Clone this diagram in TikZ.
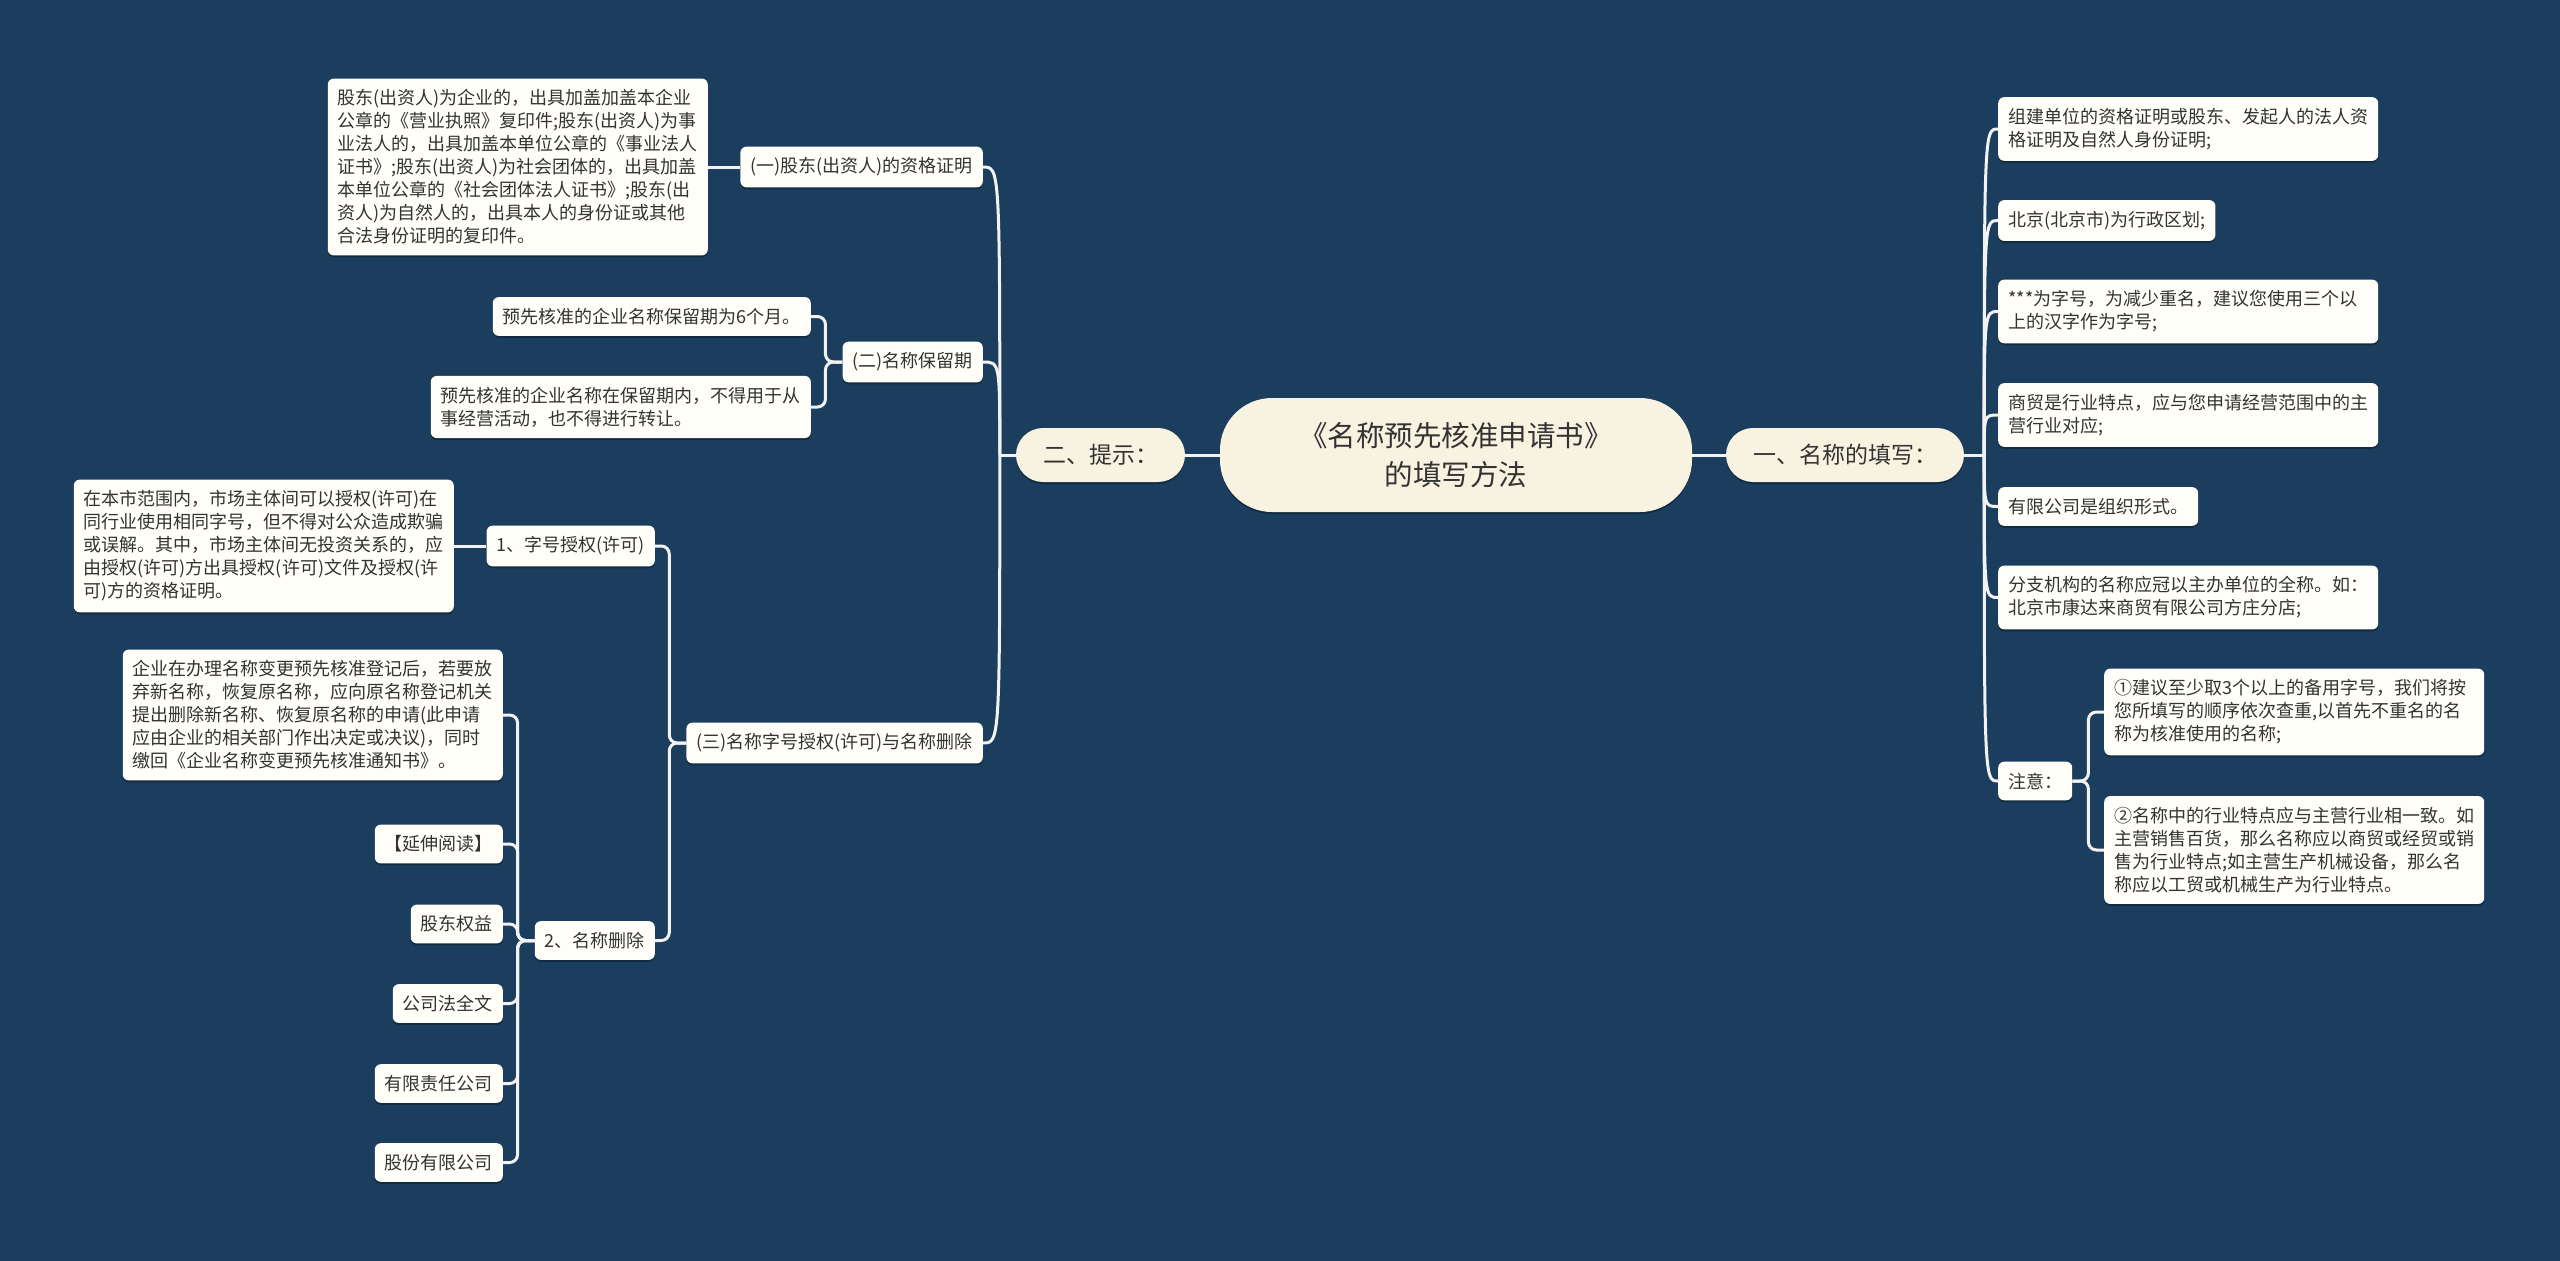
\documentclass[tikz,border=0pt]{standalone}
\usepackage{fontspec}
\setmainfont{Noto Sans CJK SC}
\usetikzlibrary{calc,shadows}
\definecolor{bg}{HTML}{1B3E5E}
\definecolor{cream}{HTML}{F8F3E0}
\definecolor{boxw}{HTML}{FFFEF8}
\definecolor{txt}{HTML}{333333}
\definecolor{wire}{HTML}{F2F2F2}
\begin{document}
\begin{tikzpicture}[x=1pt,y=-1pt,
  shade box/.style={drop shadow={opacity=0.3, shadow xshift=0pt, shadow yshift=-2pt, fill=black}},
  leaf/.style={fill=boxw, shade box, rounded corners=6pt, inner xsep=10pt, inner ysep=11pt, font=\fontsize{18}{23}\selectfont, text=txt, align=left},
  wide/.style={leaf, text width=360pt},
  mainbox/.style={fill=cream, shade box, rounded corners=27pt, minimum height=54pt, inner xsep=27pt, font=\fontsize{23}{28}\selectfont, text=txt},
  rootbox/.style={fill=cream, shade box, rounded corners=52pt, minimum width=472pt, minimum height=114pt, font=\fontsize{28.5}{39}\selectfont, text=txt, align=center},
  conn/.style={draw=wire, line width=3pt},
  elbow/.style={conn, rounded corners=8pt},
]
\useasboundingbox (0,0) rectangle (2560,1261);
\fill[bg] (0,0) rectangle (2560,1261);

% connectors are drawn first (behind the boxes) using coordinates of the boxes placed below
% root and main branches
\node[rootbox] (c) at (1456,455) {《名称预先核准申请书》\\的填写方法};
\node[mainbox] (m1) at (1845,455) {一、名称的填写：};
\node[mainbox] (m2) at (1100.5,455) {二、提示：};

% right side
\node[wide, anchor=west] (r1) at (1998,129) {组建单位的资格证明或股东、发起人的法人资\\格证明及自然人身份证明;};
\node[leaf, anchor=west] (r2) at (1998,220.5) {北京(北京市)为行政区划;};
\node[wide, anchor=west] (r3) at (1998,311.5) {***为字号，为减少重名，建议您使用三个以\\上的汉字作为字号;};
\node[wide, anchor=west] (r4) at (1998,415) {商贸是行业特点，应与您申请经营范围中的主\\营行业对应;};
\node[leaf, anchor=west] (r5) at (1998,506.5) {有限公司是组织形式。};
\node[wide, anchor=west] (r6) at (1998,597.5) {分支机构的名称应冠以主办单位的全称。如：\\北京市康达来商贸有限公司方庄分店;};
\node[leaf, anchor=west] (r7) at (1998,781) {注意：};
\node[wide, anchor=west] (n1) at (2104,712) {①建议至少取3个以上的备用字号，我们将按\\您所填写的顺序依次查重,以首先不重名的名\\称为核准使用的名称;};
\node[wide, anchor=west] (n2) at (2104,850) {②名称中的行业特点应与主营行业相一致。如\\主营销售百货，那么名称应以商贸或经贸或销\\售为行业特点;如主营生产机械设备，那么名\\称应以工贸或机械生产为行业特点。};

% left side
\node[leaf, anchor=east] (a1) at (983,167) {(一)股东(出资人)的资格证明};
\node[wide, anchor=east] (a1t) at (708,167) {股东(出资人)为企业的，出具加盖加盖本企业\\公章的《营业执照》复印件;股东(出资人)为事\\业法人的，出具加盖本单位公章的《事业法人\\证书》;股东(出资人)为社会团体的，出具加盖\\本单位公章的《社会团体法人证书》;股东(出\\资人)为自然人的，出具本人的身份证或其他\\合法身份证明的复印件。};
\node[leaf, anchor=east] (a2) at (983,362) {(二)名称保留期};
\node[leaf, anchor=east] (a2a) at (811,316.5) {预先核准的企业名称保留期为6个月。};
\node[wide, anchor=east] (a2b) at (811,407) {预先核准的企业名称在保留期内，不得用于从\\事经营活动，也不得进行转让。};
\node[leaf, anchor=east] (a3) at (983,743) {(三)名称字号授权(许可)与名称删除};
\node[leaf, anchor=east] (b1) at (655,546) {1、字号授权(许可)};
\node[wide, anchor=east] (b1t) at (454,546) {在本市范围内，市场主体间可以授权(许可)在\\同行业使用相同字号，但不得对公众造成欺骗\\或误解。其中，市场主体间无投资关系的，应\\由授权(许可)方出具授权(许可)文件及授权(许\\可)方的资格证明。};
\node[leaf, anchor=east] (b2) at (655,940.5) {2、名称删除};
\node[wide, anchor=east] (b2t) at (503,715) {企业在办理名称变更预先核准登记后，若要放\\弃新名称，恢复原名称，应向原名称登记机关\\提出删除新名称、恢复原名称的申请(此申请\\应由企业的相关部门作出决定或决议)，同时\\缴回《企业名称变更预先核准通知书》。};
\node[leaf, anchor=east] (b2a) at (503,844) {【延伸阅读】};
\node[leaf, anchor=east] (b2b) at (503,924) {股东权益};
\node[leaf, anchor=east] (b2c) at (503,1003.5) {公司法全文};
\node[leaf, anchor=east] (b2d) at (503,1083.5) {有限责任公司};
\node[leaf, anchor=east] (b2e) at (503,1162.5) {股份有限公司};

% connectors
\draw[conn] (c.west) -- (m2.east);
\draw[conn] (c.east) -- (m1.west);
\draw[conn] (m1.east) -- ++(20,0) coordinate (rh);
\foreach \n in {r1,r2,r3,r4,r5,r6,r7}
  \draw[conn] (rh) .. controls (rh |- \n.west) .. (\n.west);
\draw[conn] (m2.west) -- ++(-16,0) coordinate (lh);
\foreach \n in {a1,a2,a3}
  \draw[conn] (lh) .. controls (lh |- \n.east) .. (\n.east);

\draw[conn] (a1.west) -- (a1t.east);
\foreach \n in {a2a,a2b}
  \draw[elbow] (a2.west) -- ++(-17,0) |- (\n.east);
\foreach \n in {b1,b2}
  \draw[elbow] (a3.west) -- ++(-17,0) |- (\n.east);
\draw[conn] (b1.west) -- (b1t.east);
\foreach \n in {b2t,b2a,b2b,b2c,b2d,b2e}
  \draw[elbow] (b2.west) -- ++(-17,0) |- (\n.east);
\foreach \n in {n1,n2}
  \draw[elbow] (r7.east) -- ++(16,0) |- (\n.west);
\end{tikzpicture}
\end{document}
